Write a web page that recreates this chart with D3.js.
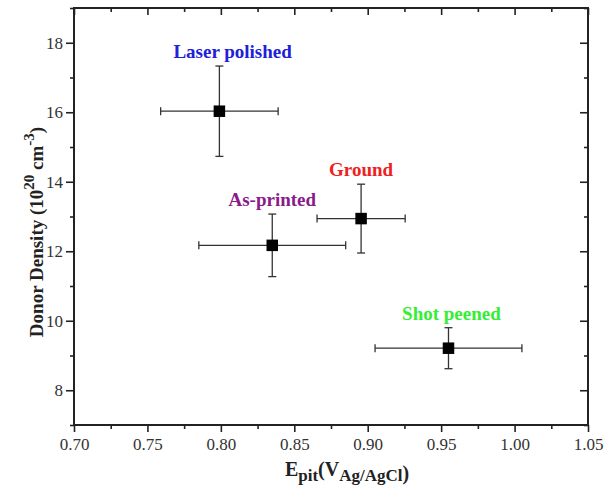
<!DOCTYPE html>
<html><head><meta charset="utf-8">
<script src="https://cdn.jsdelivr.net/npm/d3@7"></script>
<style>
html,body{margin:0;padding:0;background:#fff;}
svg{display:block;font-family:"Liberation Serif","Times New Roman",serif;}
</style></head>
<body>
<svg id="chart" width="604" height="487"></svg>
<script>
const categories = ["Laser polished", "As-printed", "Ground", "Shot peened"];
const epit = [0.799, 0.835, 0.8955, 0.955];
const epitErr = [0.04, 0.05, 0.03, 0.05];
const donor = [16.03, 12.17, 12.94, 9.21];
const donorErr = [1.3, 0.9, 0.99, 0.59];
const labelColors = ["#2020d8", "#8a1a8a", "#f02020", "#33ee33"];
const labelX = [0.808, 0.835, 0.8955, 0.957];
const xTicks = [0.70, 0.75, 0.80, 0.85, 0.90, 0.95, 1.00, 1.05];
const yTicks = [8, 10, 12, 14, 16, 18];

const svg = d3.select("#chart");
const L = 74, R = 588, T = 8, B = 425;
const x = d3.scale ? null : null;
const xs = d3.scaleLinear().domain([0.70, 1.05]).range([L, R]);
const ys = d3.scaleLinear().domain([7, 19]).range([B, T]);

const xMinor = d3.range(0.725, 1.05, 0.05);
const yMinor = d3.range(7, 20, 2);

const axisColor = "#222";
// bottom axis
const gB = svg.append("g").attr("transform", `translate(0,${B})`)
  .call(d3.axisBottom(xs).tickValues(xTicks).tickFormat(d3.format(".2f")).tickSizeOuter(0).tickSize(7).tickPadding(6));
const gBm = svg.append("g").attr("transform", `translate(0,${B})`)
  .call(d3.axisBottom(xs).tickValues(xMinor).tickFormat("").tickSizeOuter(0).tickSize(4));
// top axis (inward)
const gT = svg.append("g").attr("transform", `translate(0,${T})`)
  .call(d3.axisBottom(xs).tickValues(xTicks).tickFormat("").tickSizeOuter(0).tickSize(7));
const gTm = svg.append("g").attr("transform", `translate(0,${T})`)
  .call(d3.axisBottom(xs).tickValues(xMinor).tickFormat("").tickSizeOuter(0).tickSize(4));
// left axis
const gL = svg.append("g").attr("transform", `translate(${L},0)`)
  .call(d3.axisLeft(ys).tickValues(yTicks).tickSizeOuter(0).tickSize(8).tickPadding(3));
const gLm = svg.append("g").attr("transform", `translate(${L},0)`)
  .call(d3.axisLeft(ys).tickValues(yMinor).tickFormat("").tickSizeOuter(0).tickSize(4));
// right axis (inward)
const gR = svg.append("g").attr("transform", `translate(${R},0)`)
  .call(d3.axisLeft(ys).tickValues(yTicks).tickFormat("").tickSizeOuter(0).tickSize(8));
const gRm = svg.append("g").attr("transform", `translate(${R},0)`)
  .call(d3.axisLeft(ys).tickValues(yMinor).tickFormat("").tickSizeOuter(0).tickSize(4));

svg.selectAll(".domain").remove();
svg.selectAll(".tick line").attr("stroke", axisColor).attr("stroke-width", 1.6);
svg.selectAll(".tick text").attr("fill", "#333").style("font-size", "17px")
  .style("font-family", '"Liberation Serif","Times New Roman",serif');

// frame
svg.append("rect").attr("x", L).attr("y", T).attr("width", R - L).attr("height", B - T)
  .attr("fill", "none").attr("stroke", axisColor).attr("stroke-width", 2);

// error bars
const eb = svg.append("g").attr("stroke", "#333").attr("stroke-width", 1.3).attr("fill", "none");
const cap = 4;
categories.forEach((c, i) => {
  const cx = xs(epit[i]), cy = ys(donor[i]);
  const x0 = xs(epit[i] - epitErr[i]), x1 = xs(epit[i] + epitErr[i]);
  const y0 = ys(donor[i] - donorErr[i]), y1 = ys(donor[i] + donorErr[i]);
  eb.append("line").attr("x1", x0).attr("x2", x1).attr("y1", cy).attr("y2", cy);
  eb.append("line").attr("x1", x0).attr("x2", x0).attr("y1", cy - cap).attr("y2", cy + cap);
  eb.append("line").attr("x1", x1).attr("x2", x1).attr("y1", cy - cap).attr("y2", cy + cap);
  eb.append("line").attr("x1", cx).attr("x2", cx).attr("y1", y0).attr("y2", y1);
  eb.append("line").attr("x1", cx - cap).attr("x2", cx + cap).attr("y1", y0).attr("y2", y0);
  eb.append("line").attr("x1", cx - cap).attr("x2", cx + cap).attr("y1", y1).attr("y2", y1);
});

// markers
const ms = 11.5;
svg.append("g").selectAll("rect").data(categories).join("rect")
  .attr("x", (d, i) => xs(epit[i]) - ms / 2)
  .attr("y", (d, i) => ys(donor[i]) - ms / 2)
  .attr("width", ms).attr("height", ms).attr("fill", "#000");

// labels
svg.append("g").selectAll("text").data(categories).join("text")
  .attr("x", (d, i) => xs(labelX[i]))
  .attr("y", (d, i) => ys(donor[i] + donorErr[i]) - 8)
  .attr("text-anchor", "middle")
  .attr("fill", (d, i) => labelColors[i])
  .style("font-size", "19px").style("font-weight", "bold")
  .text(d => d);

// x title
const xt = svg.append("text").attr("x", (L + R) / 2 + 16).attr("y", 476)
  .attr("text-anchor", "middle").style("font-weight", "bold").style("font-size", "20px").attr("fill", "#222");
xt.append("tspan").text("E");
xt.append("tspan").attr("dy", 5).style("font-size", "17px").text("pit");
xt.append("tspan").attr("dy", -5).text("(V");
xt.append("tspan").attr("dy", 5).style("font-size", "17px").text("Ag/AgCl");
xt.append("tspan").attr("dy", -1).text(")");

// y title
const yt = svg.append("text").attr("transform", "translate(43,232) rotate(-90)")
  .attr("text-anchor", "middle").style("font-weight", "bold").style("font-size", "19px").attr("fill", "#222");
yt.append("tspan").text("Donor Density (10");
yt.append("tspan").attr("dy", -9).style("font-size", "15px").text("20");
yt.append("tspan").attr("dy", 9).text(" cm");
yt.append("tspan").attr("dy", -9).style("font-size", "15px").text("-3");
yt.append("tspan").attr("dy", 9).text(")");
</script>
</body></html>
